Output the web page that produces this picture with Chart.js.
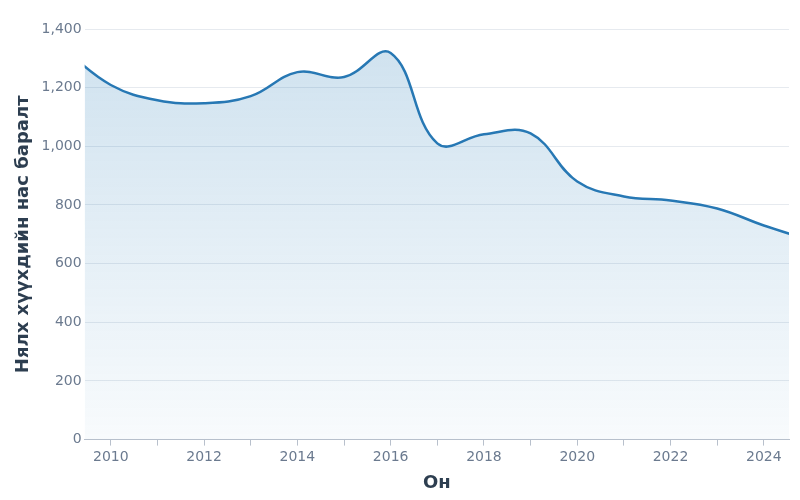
<!DOCTYPE html>
<html>
<head>
<meta charset="utf-8">
<script src="https://cdn.jsdelivr.net/npm/chart.js@4"></script>
<style>
  body { margin: 0; background: #fff; }
  #wrap { width: 800px; height: 500px; }
</style>
</head>
<body>
<div id="wrap"><canvas id="mortChart"></canvas></div>
<script>
const years = [2009, 2010, 2011, 2012, 2013, 2014, 2015, 2016, 2017, 2018, 2019, 2020, 2021, 2022, 2023, 2024, 2025];
const deaths = [1330, 1209, 1157, 1147, 1171, 1253, 1236, 1318, 1010, 1041, 1044, 880, 829, 815, 788, 730, 680];

const ctx = document.getElementById('mortChart').getContext('2d');
const grad = ctx.createLinearGradient(0, 29, 0, 438);
grad.addColorStop(0, 'rgba(31,119,180,0.22)');
grad.addColorStop(1, 'rgba(31,119,180,0.03)');

const tickFont = { family: 'DejaVu Sans', size: 14 };
const titleFont = { family: 'DejaVu Sans', size: 18, weight: 'bold' };

new Chart(ctx, {
  type: 'line',
  data: {
    datasets: [{
      data: years.map((y, i) => ({ x: y, y: deaths[i] })),
      borderColor: '#2778b4',
      borderWidth: 2.5,
      backgroundColor: grad,
      fill: 'origin',
      pointRadius: 0,
      tension: 0.4
    }]
  },
  options: {
    responsive: true,
    maintainAspectRatio: false,
    animation: false,
    layout: { padding: { top: 29, right: 11, left: 9, bottom: 2 } },
    plugins: { legend: { display: false }, tooltip: { enabled: false } },
    scales: {
      x: {
        type: 'linear',
        min: 2009.44,
        max: 2024.54,
        afterBuildTicks: axis => {
          axis.ticks = [];
          for (let y = 2010; y <= 2024; y++) axis.ticks.push({ value: y });
        },
        ticks: {
          color: '#6b7a8f', font: tickFont, autoSkip: false, maxRotation: 0,
          callback: v => v % 2 === 0 ? String(v) : ''
        },
        grid: { drawOnChartArea: false, color: '#b8c0cc', tickLength: 6 },
        border: { color: '#b8c0cc' },
        title: { display: true, text: 'Он', color: '#2d3e50', font: titleFont }
      },
      y: {
        min: 0,
        max: 1400,
        ticks: {
          stepSize: 200, color: '#6b7a8f', font: tickFont,
          callback: v => v.toLocaleString('en-US')
        },
        grid: { color: '#e6eaef', drawTicks: false },
        border: { display: false },
        title: { display: true, text: 'Нялх хүүхдийн нас баралт', color: '#2d3e50', font: titleFont }
      }
    }
  }
});
</script>
</body>
</html>
